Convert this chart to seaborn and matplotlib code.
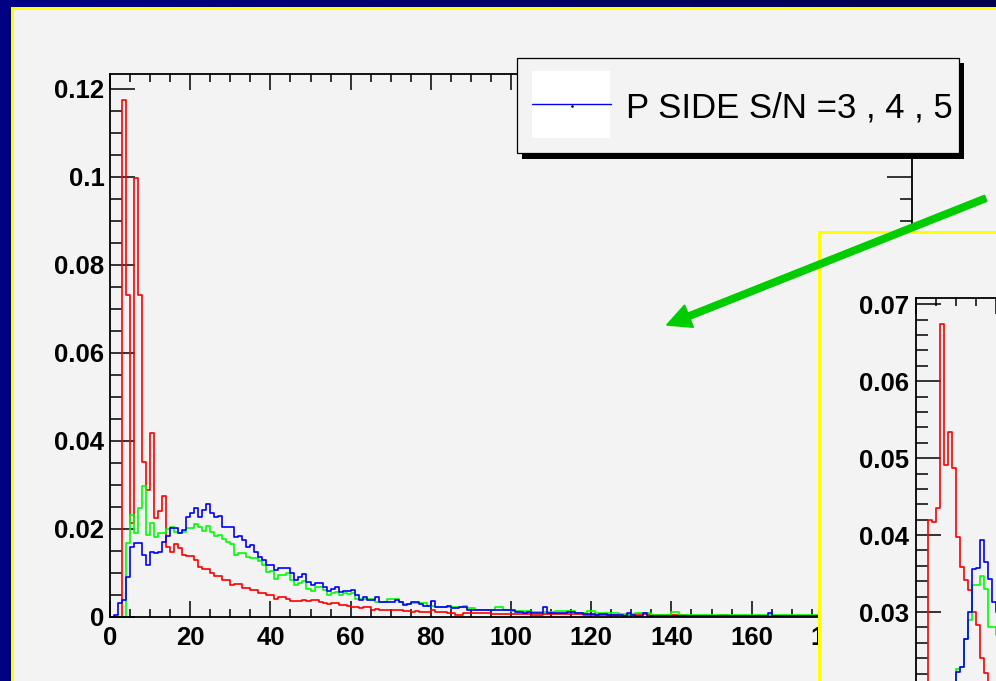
import numpy as np
import pandas as pd
import matplotlib
matplotlib.use("Agg")
import matplotlib.pyplot as plt
import seaborn as sns
from matplotlib.patches import Rectangle, FancyArrow
from matplotlib.lines import Line2D
from matplotlib.ticker import MultipleLocator, FuncFormatter
from matplotlib.transforms import IdentityTransform
from matplotlib.colors import LinearSegmentedColormap

# ---------------- data ----------------
bin_edges = np.arange(0, 201, 1)
inset_edges = np.arange(0, 22, 1)

red_counts = [
    0, 0, 0, 0.1175, 0.0732, 0.0214, 0.0998, 0.0732, 0.0353, 0.0289,
    0.0418, 0.0225, 0.0240, 0.0275, 0.016, 0.0148, 0.0167, 0.0156, 0.0142, 0.0138,
    0.0138, 0.0129, 0.0114, 0.0108, 0.0108, 0.0099, 0.0093, 0.0093, 0.0084, 0.0084,
    0.0073, 0.0076, 0.0076, 0.0065, 0.0065, 0.0061, 0.0061, 0.0055, 0.0055, 0.0050,
    0.0050, 0.0042, 0.0045, 0.0045, 0.0042, 0.0037, 0.0037, 0.0037, 0.0039, 0.0037,
    0.0038, 0.0038, 0.0035, 0.0031, 0.0030, 0.0031, 0.0031, 0.0027, 0.0027, 0.0026,
    0.0023, 0.0023, 0.0021, 0.0022, 0.0022, 0.0017, 0.0018, 0.0017, 0.0016, 0.0017,
    0.0017, 0.0016, 0.0017, 0.0014, 0.0014, 0.0012, 0.0013, 0.0012, 0.0012, 0.0011,
    0.0017, 0.0012, 0.0012, 0.0012, 0.0010, 0.0010, 0.0005, 0.0005, 0.0010, 0.0010,
    0.0008, 0.0008, 0.0008, 0.0008, 0.0008, 0.0007, 0.0007, 0.0007, 0.0007, 0.0007,
    0.0007, 0.0007, 0.0007, 0.0007, 0.0007, 0.0005, 0.0005, 0.0005, 0.0006, 0.0006,
    0.0006, 0.0006, 0.0006, 0.0006, 0.0006, 0.0006, 0.0006, 0.0006, 0.0004, 0.0004,
    0.0004, 0.0004, 0.0004, 0.0004, 0.0004, 0.0004, 0.0004, 0.0004, 0.0004, 0.0004,
    0.0004, 0.0006, 0.0006, 0.0006, 0.0006, 0.0005, 0.0005, 0.0005, 0.0005, 0.0005,
    0.0005, 0.0005, 0.0005, 0.0005, 0.0002, 0.0002, 0.0002, 0.0002, 0.0002, 0.0002,
    0.0002, 0.0002, 0.0005, 0.0005, 0.0002, 0.0002, 0.0002, 0.0002, 0.0002, 0.0002,
    0.0002, 0.0002, 0.0002, 0.0002, 0.0002, 0.0002, 0.0002, 0.0002, 0.0002, 0.0002,
    0.0002, 0.0002, 0.0002, 0.0002, 0.0002, 0.0002, 0.0002, 0.0002, 0.0002, 0.0002,
    0.0002, 0.0002, 0.0002, 0.0002, 0.0002, 0.0002, 0.0002, 0.0002, 0.0002, 0.0002,
    0.0002, 0.0002, 0.0002, 0.0002, 0.0002, 0.0002, 0.0002, 0.0002, 0.0002, 0.0002,
]

green_counts = [
    0, 0, 0, 0, 0.0168, 0.0232, 0.0190, 0.0248, 0.0298, 0.0186,
    0.0214, 0.0182, 0.0190, 0.0192, 0.0200, 0.0205, 0.0194, 0.0192, 0.0194, 0.0202,
    0.0202, 0.0211, 0.0205, 0.0196, 0.0207, 0.0194, 0.0183, 0.0186, 0.0177, 0.0171,
    0.0167, 0.0141, 0.0146, 0.0146, 0.0137, 0.0133, 0.0133, 0.0128, 0.0118, 0.0103,
    0.0105, 0.0086, 0.0095, 0.0095, 0.0099, 0.0084, 0.0073, 0.0078, 0.0082, 0.0064,
    0.0060, 0.0068, 0.0068, 0.0062, 0.0050, 0.0054, 0.0056, 0.0050, 0.0054, 0.0053,
    0.0054, 0.0042, 0.0042, 0.0040, 0.0040, 0.0040, 0.0033, 0.0033, 0.0033, 0.0040,
    0.0040, 0.0040, 0.0035, 0.0030, 0.0030, 0.0031, 0.0031, 0.0031, 0.0031, 0.0025,
    0.0025, 0.0023, 0.0023, 0.0023, 0.0023, 0.0023, 0.0023, 0.0023, 0.0025, 0.0021,
    0.0021, 0.0017, 0.0017, 0.0017, 0.0017, 0.0017, 0.0022, 0.0022, 0.0017, 0.0017,
    0.0014, 0.0014, 0.0014, 0.0014, 0.0014, 0.0012, 0.0012, 0.0012, 0.0012, 0.0012,
    0.0012, 0.0013, 0.0013, 0.0013, 0.0013, 0.0013, 0.0010, 0.0010, 0.0010, 0.0013,
    0.0013, 0.0008, 0.0008, 0.0008, 0.0008, 0.0008, 0.0008, 0.0007, 0.0007, 0.0007,
    0.0007, 0.0008, 0.0008, 0.0008, 0.0008, 0.0005, 0.0005, 0.0005, 0.0005, 0.0005,
    0.0011, 0.0011, 0.0004, 0.0004, 0.0004, 0.0004, 0.0004, 0.0004, 0.0004, 0.0004,
    0.0004, 0.0004, 0.0004, 0.0004, 0.0004, 0.0004, 0.0004, 0.0004, 0.0004, 0.0004,
    0.0004, 0.0004, 0.0004, 0.0004, 0.0004, 0.0004, 0.0004, 0.0004, 0.0004, 0.0004,
    0.0004, 0.0004, 0.0004, 0.0004, 0.0004, 0.0004, 0.0004, 0.0003, 0.0003, 0.0003,
    0.0003, 0.0003, 0.0003, 0.0003, 0.0003, 0.0003, 0.0003, 0.0003, 0.0003, 0.0003,
    0.0003, 0.0003, 0.0003, 0.0003, 0.0003, 0.0003, 0.0003, 0.0003, 0.0003, 0.0003,
]

blue_counts = [
    0.0001, 0.0004, 0.0031, 0.0039, 0.0092, 0.0158, 0.0168, 0.0169, 0.0141, 0.0118,
    0.0148, 0.0145, 0.0148, 0.0171, 0.0183, 0.0202, 0.0203, 0.0192, 0.0198, 0.0228,
    0.0236, 0.0247, 0.0228, 0.0243, 0.0257, 0.0236, 0.0228, 0.0230, 0.0205, 0.0205,
    0.0205, 0.0181, 0.0183, 0.0175, 0.0160, 0.0164, 0.0148, 0.0137, 0.0130, 0.0118,
    0.0118, 0.0107, 0.0111, 0.0111, 0.0111, 0.0099, 0.0084, 0.0092, 0.0098, 0.0080,
    0.0072, 0.0078, 0.0077, 0.0068, 0.0060, 0.0064, 0.0068, 0.0057, 0.0060, 0.0058,
    0.0061, 0.0050, 0.0039, 0.0045, 0.0039, 0.0039, 0.0045, 0.0035, 0.0035, 0.0033,
    0.0033, 0.0039, 0.0033, 0.0027, 0.0030, 0.0033, 0.0033, 0.0030, 0.0025, 0.0025,
    0.0036, 0.0022, 0.0022, 0.0022, 0.0025, 0.0020, 0.0020, 0.0022, 0.0022, 0.0017,
    0.0017, 0.0016, 0.0016, 0.0017, 0.0017, 0.0017, 0.0017, 0.0016, 0.0016, 0.0017,
    0.0017, 0.0012, 0.0012, 0.0010, 0.0012, 0.0010, 0.0010, 0.0010, 0.0022, 0.0008,
    0.0008, 0.0010, 0.0008, 0.0010, 0.0012, 0.0011, 0.0008, 0.0010, 0.0007, 0.0006,
    0.0007, 0.0005, 0.0006, 0.0007, 0.0005, 0.0005, 0.0005, 0.0005, 0.0003, 0.0008,
    0.0004, 0.0003, 0.0003, 0.0008, 0.0003, 0.0003, 0.0003, 0.0003, 0.0003, 0.0003,
    0.0003, 0.0003, 0.0003, 0.0003, 0.0003, 0.0003, 0.0003, 0.0003, 0.0003, 0.0003,
    0.0003, 0.0003, 0.0003, 0.0003, 0.0003, 0.0003, 0.0003, 0.0003, 0.0003, 0.0003,
    0.0003, 0.0003, 0.0003, 0.0003, 0.0008, 0.0003, 0.0002, 0.0002, 0.0002, 0.0002,
    0.0002, 0.0002, 0.0002, 0.0002, 0.0002, 0.0002, 0.0002, 0.0002, 0.0002, 0.0002,
    0.0002, 0.0002, 0.0002, 0.0002, 0.0002, 0.0002, 0.0002, 0.0002, 0.0002, 0.0002,
    0.0002, 0.0002, 0.0002, 0.0002, 0.0002, 0.0002, 0.0002, 0.0002, 0.0002, 0.0002,
]

inset_red = [0, 0, 0, 0.0420, 0.0417, 0.0435, 0.0674, 0.0491, 0.0534, 0.0487,
             0.0397, 0.0358, 0.0342, 0.0329, 0.0300, 0.0283, 0.0240, 0.0221, 0.0200, 0.0180, 0.0160]
inset_green = [0, 0, 0, 0.002, 0.004, 0.006, 0.009, 0.012, 0.015, 0.018,
               0.0226, 0.0229, 0.0265, 0.0290, 0.0335, 0.0335, 0.0347, 0.0330, 0.0280, 0.0280, 0.0270]
inset_blue = [0, 0, 0, 0.002, 0.004, 0.006, 0.009, 0.012, 0.015, 0.018,
              0.0222, 0.0228, 0.0265, 0.0300, 0.0356, 0.0357, 0.0393, 0.0365, 0.0343, 0.0313, 0.0300]

legend_label = "P SIDE S/N =3 , 4 , 5"
series_colors = ["#ff0000", "#00ff00", "#0000ff"]

# ---------------- figure ----------------
W, H = 996, 681
sns.set_style("ticks")
plt.rcParams["font.family"] = ["Liberation Sans", "DejaVu Sans"]
plt.rcParams["font.weight"] = "bold"

fig = plt.figure(figsize=(W / 100, H / 100), dpi=100)


def fx(x):
    return x / W


def fy(y):
    return 1 - y / H


PT = 0.72  # points per pixel at 100 dpi

# navy gradient background
bg = fig.add_axes([0, 0, 1, 1], zorder=-10)
grad = np.linspace(0, 1, 256).reshape(1, -1)
bg.imshow(grad, aspect="auto", extent=[0, 1, 0, 1],
          cmap=LinearSegmentedColormap.from_list("navy", ["#000084", "#00004c"]))
bg.set_axis_off()

# light panel with yellow edge
panel = Rectangle((fx(11.5), fy(H + 20)), (W + 20 - 11.5) / W, (H + 20 - 7.7) / H,
                  transform=fig.transFigure, facecolor="#f3f3f3", edgecolor="#ffff00",
                  linewidth=3 * PT, zorder=-5)
fig.add_artist(panel)

fmt = FuncFormatter(lambda v, p: "%g" % round(v, 6))


def style_axes(ax, xmaj, xmin, ymaj, ymin):
    ax.set_facecolor("none")
    for s in ax.spines.values():
        s.set_color("black")
        s.set_linewidth(1.3)
        s.set_visible(True)
    ax.xaxis.set_major_locator(MultipleLocator(xmaj))
    ax.xaxis.set_minor_locator(MultipleLocator(xmin))
    ax.yaxis.set_major_locator(MultipleLocator(ymaj))
    ax.yaxis.set_minor_locator(MultipleLocator(ymin))
    ax.xaxis.set_major_formatter(fmt)
    ax.yaxis.set_major_formatter(fmt)
    ax.tick_params(axis="both", which="both", direction="in", top=True, right=True,
                   color="black", width=1.1, labelsize=18.5, labelcolor="black")
    ax.tick_params(axis="x", which="major", length=16 * PT, pad=6.5)
    ax.tick_params(axis="x", which="minor", length=8 * PT)
    ax.tick_params(axis="y", which="major", length=25 * PT, pad=4)
    ax.tick_params(axis="y", which="minor", length=12 * PT)
    ax.set_xlabel("")
    ax.set_ylabel("")
    ax.grid(False)


def draw_hist(ax, edges, series):
    centers = (edges[:-1] + edges[1:]) / 2
    for vals, col in zip(series, series_colors):
        df = pd.DataFrame({"x": centers, "w": vals})
        sns.histplot(data=df, x="x", weights="w", bins=[float(e) for e in edges],
                     element="step", fill=False, color=col, linewidth=1.2, ax=ax)


# ---------------- main histogram ----------------
ax = fig.add_axes([fx(110), fy(617), 802 / W, 543 / H], zorder=0)
draw_hist(ax, bin_edges, [red_counts, green_counts, blue_counts])
ax.set_xlim(0, 200)
ax.set_ylim(0, 0.1234)
style_axes(ax, 20, 5, 0.02, 0.005)

# ---------------- inset ----------------
inset_box = Rectangle((fx(818.5), fy(H + 20)), (W + 20 - 818.5) / W, (H + 20 - 231.5) / H,
                      transform=fig.transFigure, facecolor="#f3f3f3", edgecolor="#ffff00",
                      linewidth=3 * PT, zorder=1)
fig.add_artist(inset_box)

iax = fig.add_axes([fx(916), fy(843), 800 / W, 545 / H], zorder=2)
draw_hist(iax, inset_edges, [inset_red, inset_green, inset_blue])
iax.set_xlim(0, 200)
iax.set_ylim(0, 0.0708)
style_axes(iax, 20, 5, 0.01, 0.002)
iax.tick_params(axis="y", which="major", pad=5)
# the inset's lower labels lie below the visible area of the picture
iax.tick_params(axis="x", which="both", labelbottom=False)
iax.yaxis.set_major_formatter(FuncFormatter(lambda v, p: "%g" % round(v, 6) if v > 0.015 else ""))

# ---------------- green arrow ----------------
x0, y0 = 985.7, H - 198.3
x1, y1 = 666.7, H - 325.0
arrow = FancyArrow(x0, y0, x1 - x0, y1 - y0, width=6.5, head_width=24, head_length=24,
                   length_includes_head=True, color="#00cc00", transform=IdentityTransform(),
                   zorder=3)
fig.add_artist(arrow)

# ---------------- legend box ----------------
shadow = Rectangle((fx(522), fy(158.5)), 442 / W, 95.5 / H, transform=fig.transFigure,
                   facecolor="black", edgecolor="none", zorder=4)
fig.add_artist(shadow)
box = Rectangle((fx(517), fy(153)), 442 / W, 95 / H, transform=fig.transFigure,
                facecolor="#f3f3f3", edgecolor="black", linewidth=0.9, zorder=5)
fig.add_artist(box)
white = Rectangle((fx(532), fy(138.3)), 78 / W, 67.6 / H, transform=fig.transFigure,
                  facecolor="white", edgecolor="none", zorder=6)
fig.add_artist(white)
fig.add_artist(Line2D([fx(532), fx(611)], [fy(104), fy(104)], transform=fig.transFigure,
                      color="#0000ff", linewidth=1.0, zorder=7))
fig.add_artist(Line2D([fx(571.7)], [fy(105.5)], transform=fig.transFigure, marker="s",
                      markersize=0.8, color="#000033", linestyle="none", zorder=7))
fig.text(fx(626), fy(117), legend_label, fontsize=25, fontweight="normal",
         family=["Liberation Sans", "DejaVu Sans"], color="black",
         ha="left", va="baseline", zorder=8)

fig.savefig("out.png", dpi=100)
